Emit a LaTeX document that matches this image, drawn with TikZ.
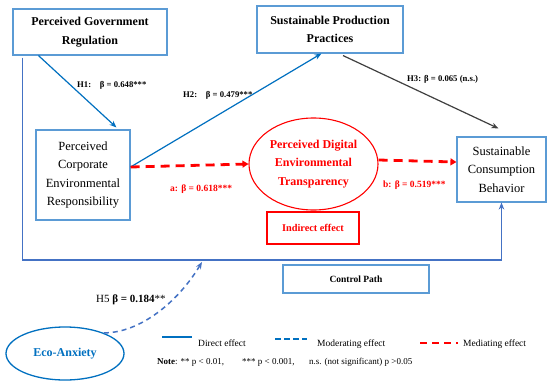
\documentclass[tikz,border=0pt]{standalone}
\usepackage{fontspec}
\setmainfont{Liberation Serif}
\usetikzlibrary{arrows.meta,calc,shapes.geometric}
\definecolor{boxblue}{RGB}{91,155,213}
\definecolor{arrblue}{RGB}{0,112,192}
\definecolor{ctrlblue}{RGB}{68,114,196}
\definecolor{myred}{RGB}{255,0,0}
\definecolor{mygray}{RGB}{64,64,64}
\begin{document}
\begin{tikzpicture}[x=1pt,y=-1pt,
  bbox/.style={draw=boxblue, line width=1.1pt, align=center, inner sep=0pt, fill=white},
  regtext/.style={font=\fontsize{12.5}{18.5}\selectfont},
  boldtext/.style={font=\bfseries\fontsize{12}{18.5}\selectfont},
  direct/.style={draw=arrblue, line width=1.2pt, -{Stealth[length=7pt,width=5.5pt]}},
  nsarrow/.style={draw=mygray, line width=1.2pt, -{Stealth[length=7pt,width=5.5pt]}},
  mediate/.style={draw=myred, line width=2.8pt, dash pattern=on 9pt off 6pt, -{Triangle[length=6pt,width=7pt]}},
  moderate/.style={draw=ctrlblue, line width=1.5pt, dash pattern=on 5pt off 4pt, -{Stealth[length=7pt,width=5.5pt]}},
  ctrlpath/.style={draw=ctrlblue, line width=1.6pt, -{Stealth[length=7pt,width=5.5pt]}},
  lab/.style={font=\bfseries\fontsize{8.7}{10}\selectfont, inner sep=0pt, anchor=base west},
  redlab/.style={lab, text=myred, font=\bfseries\fontsize{9.5}{11}\selectfont},
  legtext/.style={font=\fontsize{9.5}{11}\selectfont, inner sep=0pt, anchor=base west},
  notetext/.style={font=\fontsize{9}{11}\selectfont, inner sep=0pt, anchor=base west}
]
\useasboundingbox[fill=white] (0,0) rectangle (550,386);

% boxes
\node[bbox, boldtext, minimum width=154pt, minimum height=46pt] (gov) at (90,32) {Perceived Government\\Regulation};
\node[bbox, regtext, minimum width=94pt, minimum height=90pt] (cer) at (83,175) {Perceived\\Corporate\\Environmental\\Responsibility};
\node[bbox, boldtext, minimum width=146pt, minimum height=47pt] (spp) at (330,29.5) {Sustainable Production\\Practices};
\node[bbox, regtext, minimum width=89pt, minimum height=65pt] (scb) at (501.5,169.5) {Sustainable\\Consumption\\Behavior};
\node[ellipse, draw=myred, line width=1.1pt, text=myred, boldtext, align=center, inner sep=0pt, minimum width=129pt, minimum height=92pt] (pdet) at (313.5,164) {Perceived Digital\\Environmental\\Transparency};
\node[draw=myred, line width=1.1pt, text=myred, font=\bfseries\fontsize{10.3}{12}\selectfont, inner sep=0pt, minimum width=92pt, minimum height=32pt] (ind) at (313,228) {Indirect effect};
\node[bbox, font=\bfseries\fontsize{9.5}{11}\selectfont, minimum width=146pt, minimum height=28pt] (ctrl) at (356,279) {Control Path};
\node[ellipse, draw=arrblue, line width=1.3pt, text=arrblue, boldtext, inner sep=0pt, minimum width=118pt, minimum height=53pt] (eco) at (65,353.5) {Eco-Anxiety};

% control path
\coordinate (ctrlc) at (300,260);
\draw[ctrlpath] ([xshift=10pt,yshift=-2pt]gov.south west) |- (ctrlc) -| (scb.south);

% direct paths
\draw[direct] ([xshift=26pt]gov.south west) -- ([xshift=81pt,yshift=2pt]cer.north west);
\draw[direct] ([yshift=8pt]cer.east) -- ([xshift=65pt]spp.south west);
\draw[nsarrow] ([xshift=13pt,yshift=-2pt]spp.south) -- ([xshift=-3pt,yshift=8pt]scb.north);

% mediating paths
\draw[mediate] ([yshift=8pt]cer.east) -- (pdet.west);
\draw[mediate] ([yshift=4pt]pdet.east) -- ([yshift=7.5pt]scb.west);

% moderating path
\coordinate (modend) at (202,262);
\draw[moderate] (eco.28) .. controls (140,333) and (178,302) .. (modend);

% labels
\node[lab] (h1) at (77,87) {H1:\quad β = 0.648***};
\node[lab] (h2) at (183,97) {H2:\quad β = 0.479***};
\node[lab] (h3) at (407,81) {H3: β = 0.065 (n.s.)};
\node[redlab] (la) at (170,191) {a: β = 0.618***};
\node[redlab] (lb) at (383,187) {b: β = 0.519***};
\node[font=\fontsize{11}{13}\selectfont, inner sep=0pt, anchor=base west] (h5) at (96,302) {H5 \textbf{β = 0.184}**};

% legend
\draw[arrblue, line width=1.5pt] (162,337) -- (192,337);
\node[legtext] (l1) at (198,346) {Direct effect};
\draw[arrblue, line width=1.5pt, dash pattern=on 6pt off 3pt] (275,339) -- (307,339);
\node[legtext] (l2) at (317,346) {Moderating effect};
\draw[myred, line width=1.5pt, dash pattern=on 7pt off 5pt] (420,343) -- (458,343);
\node[legtext] (l3) at (463,346) {Mediating effect};
\node[notetext] (n1) at (157,364) {\textbf{Note}: ** p < 0.01,};
\node[notetext] (n2) at (242,364) {*** p < 0.001,};
\node[notetext] (n3) at (309,364) {n.s. (not significant) p >0.05};
\end{tikzpicture}
\end{document}
